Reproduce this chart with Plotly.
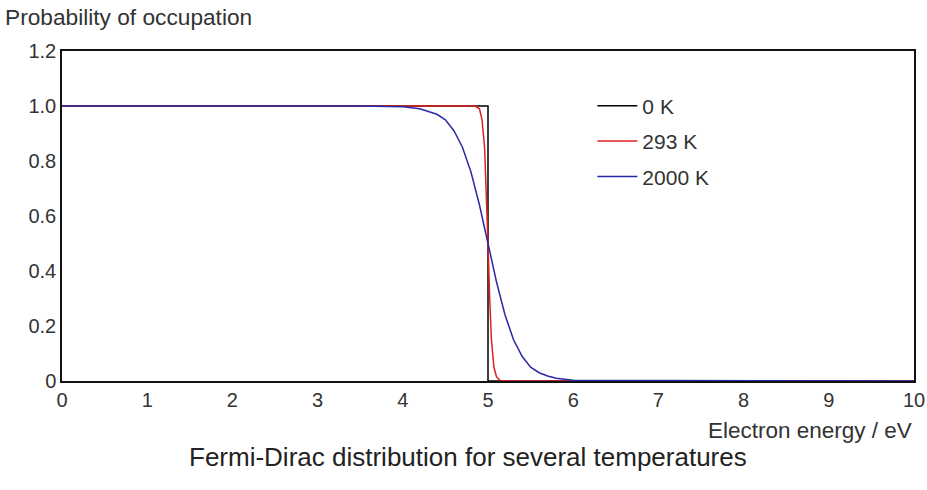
import plotly.graph_objects as go

# Data
energy_0K = [0, 5, 5, 10]
occ_0K = [1, 1, 0, 0]

energy_293K = [0, 4.85, 4.9, 4.93, 4.96, 4.98, 5.0, 5.02, 5.04, 5.07, 5.1, 5.15, 10]
occ_293K = [1, 1, 0.99, 0.95, 0.85, 0.7, 0.5, 0.3, 0.15, 0.05, 0.015, 0, 0]

energy_2000K = [0, 3.5, 4.0, 4.2, 4.4, 4.5, 4.6, 4.7, 4.8, 4.9, 5.0, 5.1, 5.2, 5.3,
                5.4, 5.5, 5.6, 5.7, 5.8, 5.9, 6.0, 10]
occ_2000K = [1, 1, 0.997, 0.99, 0.97, 0.95, 0.91, 0.85, 0.76, 0.64, 0.5, 0.36, 0.24,
             0.15, 0.09, 0.05, 0.03, 0.018, 0.01, 0.006, 0.003, 0]

series_names = ["0 K", "293 K", "2000 K"]
series_colors = ["#000000", "#e02020", "#2a2aa8"]

x_ticks = list(range(0, 11))
y_ticks = [0, 0.2, 0.4, 0.6, 0.8, 1.0, 1.2]
y_tick_labels = ["0", "0.2", "0.4", "0.6", "0.8", "1.0", "1.2"]

FONT = "Liberation Sans, Arial, sans-serif"

fig = go.Figure()
for i, (xs, ys) in enumerate([(energy_0K, occ_0K), (energy_293K, occ_293K),
                               (energy_2000K, occ_2000K)]):
    fig.add_trace(go.Scatter(
        x=xs, y=ys, mode="lines", name=series_names[i],
        legendgroup=f"g{i}",
        line=dict(color=series_colors[i], width=1.5),
    ))

fig.update_layout(
    width=927, height=490,
    margin=dict(l=62, r=13, t=51, b=109),
    paper_bgcolor="white", plot_bgcolor="white",
    font=dict(family=FONT, size=20, color="#333333"),
    showlegend=True,
    legend=dict(
        x=0.6225, y=0.895, xanchor="left", yanchor="top",
        bgcolor="rgba(0,0,0,0)", font=dict(size=21, color="#333333"),
        tracegroupgap=5, itemwidth=40,
    ),
    xaxis=dict(
        range=[0, 10], tickvals=x_ticks, ticktext=[str(t) for t in x_ticks],
        showgrid=False, zeroline=False, showline=True, mirror=True,
        linecolor="#111111", linewidth=1.5, ticks="", ticklen=0,
        tickfont=dict(size=20, color="#333333"), automargin=False,
    ),
    yaxis=dict(
        range=[0, 1.2], tickvals=y_ticks, ticktext=y_tick_labels,
        showgrid=False, zeroline=False, showline=True, mirror=True,
        linecolor="#111111", linewidth=1.5, ticks="", ticklen=0,
        tickfont=dict(size=20, color="#333333"), automargin=False,
    ),
    annotations=[
        dict(text="Probability of occupation", xref="paper", yref="paper",
             x=-0.069, y=1.0, yshift=34, xanchor="left", yanchor="middle",
             showarrow=False, font=dict(size=22.7, color="#333333")),
        dict(text="Electron energy / eV", xref="paper", yref="paper",
             x=1.0, y=0, yshift=-49, xanchor="right", yanchor="middle",
             showarrow=False, font=dict(size=22.5, color="#333333")),
        dict(text="Fermi-Dirac distribution for several temperatures",
             xref="paper", yref="paper", x=0.476, y=0, yshift=-76,
             xanchor="center", yanchor="middle",
             showarrow=False, font=dict(size=26, color="#222222")),
    ],
)

fig.write_html("out.html")
